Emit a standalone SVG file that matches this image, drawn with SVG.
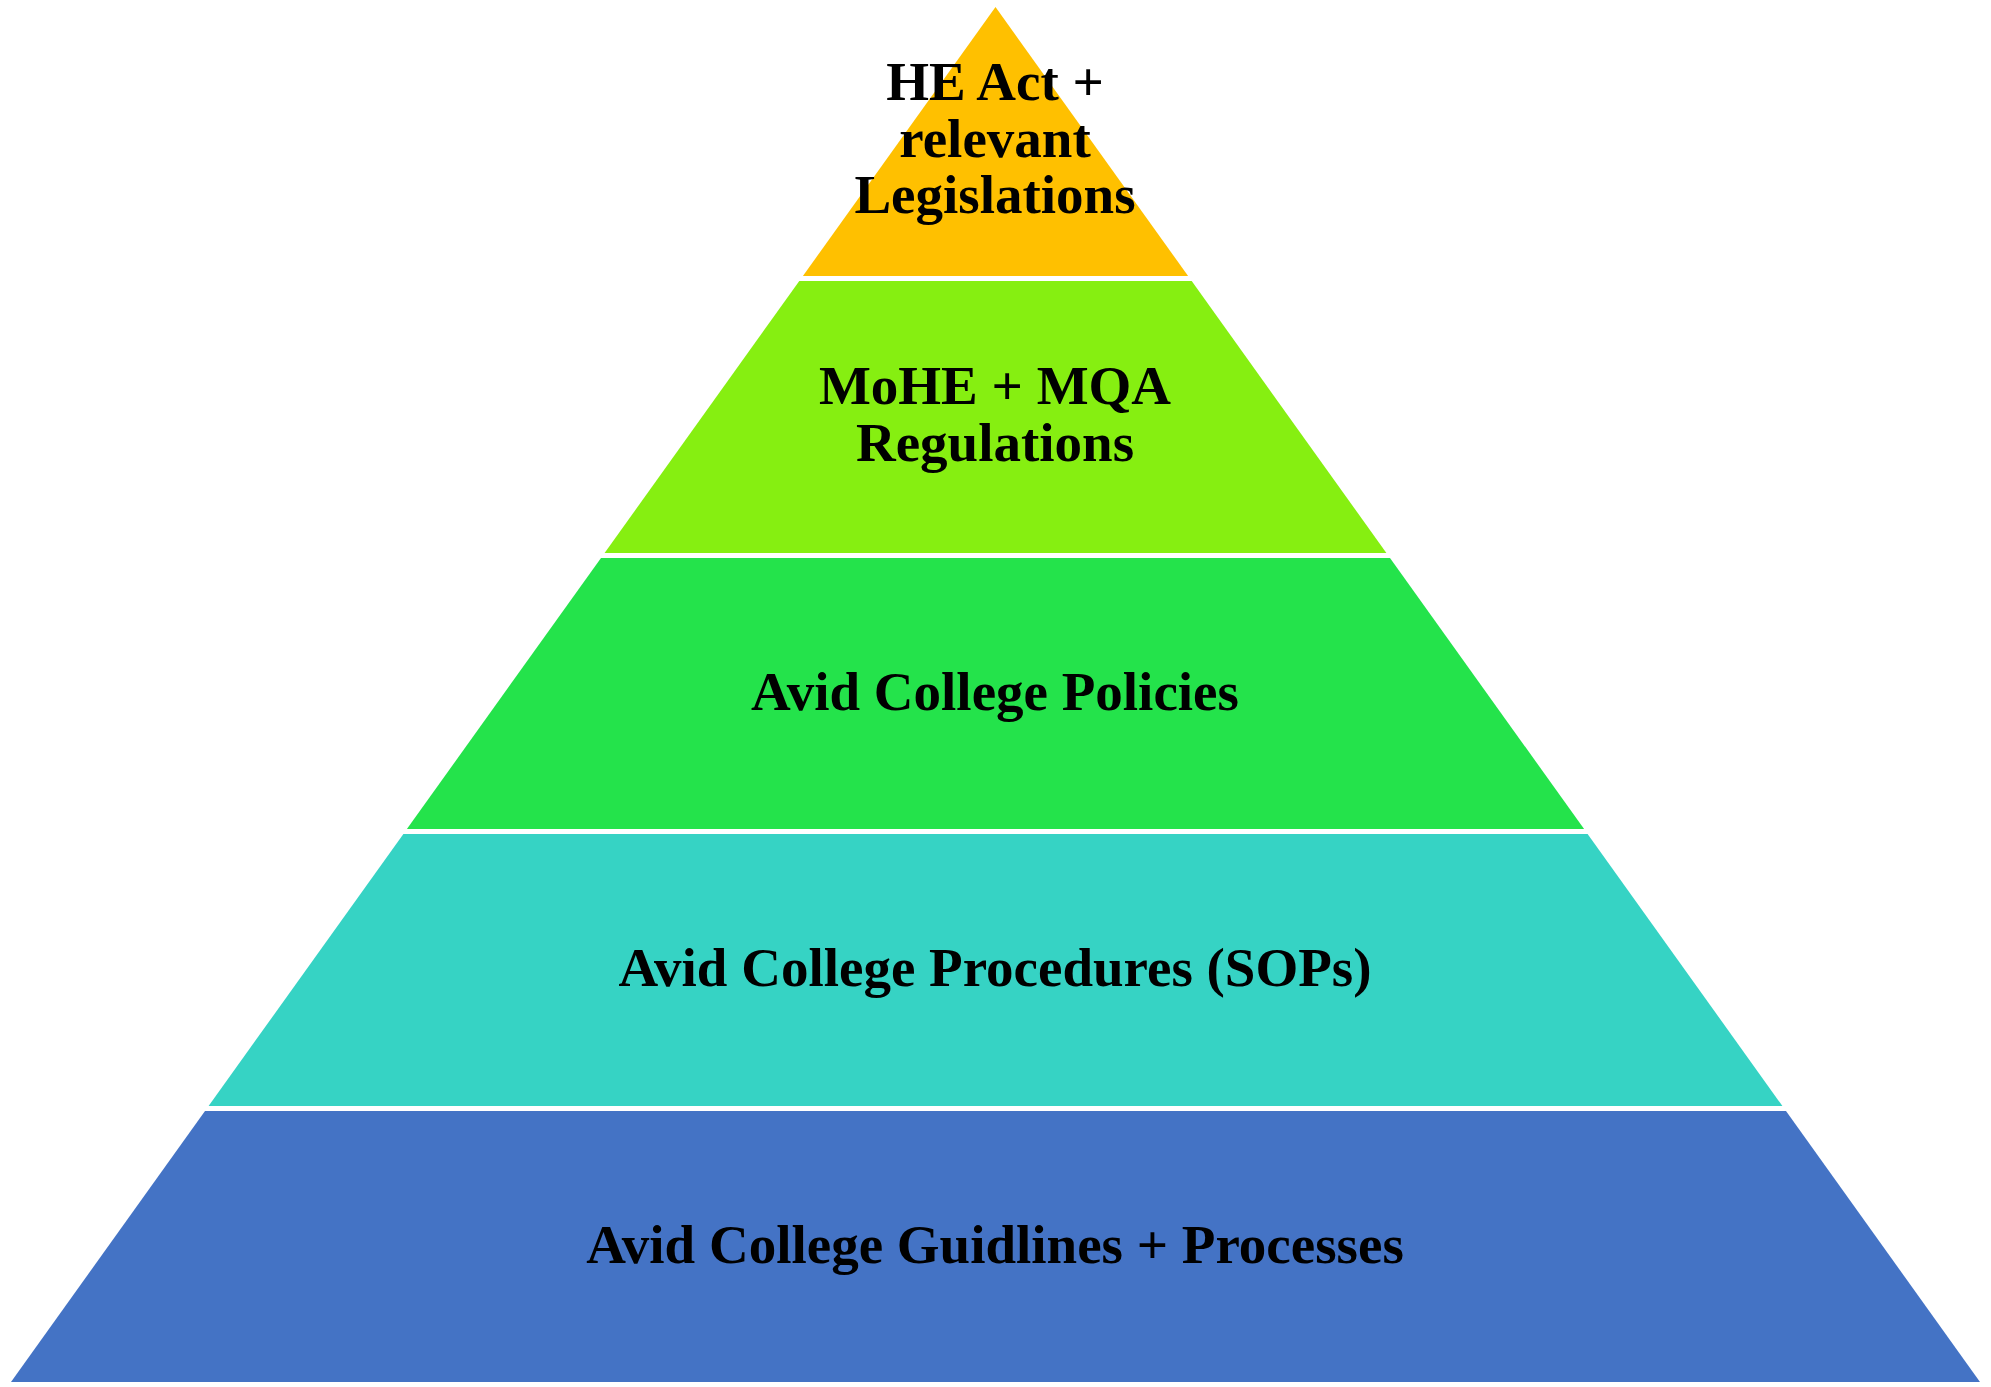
<svg xmlns="http://www.w3.org/2000/svg" width="1991" height="1387" viewBox="0 0 1991 1387">
<style>
.lbl{font-family:"Liberation Serif","Times New Roman",serif;font-weight:bold;font-size:55px;fill:#000;text-anchor:middle}
</style>
<rect width="1991" height="1387" fill="#fff"/>
<g id="tier1">
<polygon points="995.5,7 1188.1,276 802.9,276" fill="#FFC000"/>
<text class="lbl" x="995" y="100">HE Act +</text>
<text class="lbl" x="995" y="157">relevant</text>
<text class="lbl" x="995" y="213">Legislations</text>
</g>
<g id="tier2">
<polygon points="799.3,281 1191.7,281 1386.4,553 604.6,553" fill="#86EF11"/>
<text class="lbl" x="995" y="404">MoHE + MQA</text>
<text class="lbl" x="995" y="461">Regulations</text>
</g>
<g id="tier3">
<polygon points="601,558 1390,558 1584.1,829 406.9,829" fill="#24E34B"/>
<text class="lbl" x="995" y="710">Avid College Policies</text>
</g>
<g id="tier4">
<polygon points="403.4,834 1587.6,834 1782.4,1106 208.6,1106" fill="#36D3C4"/>
<text class="lbl" x="995" y="986">Avid College Procedures (SOPs)</text>
</g>
<g id="tier5">
<polygon points="205,1111 1786,1111 1980,1382 11,1382" fill="#4473C5"/>
<text class="lbl" x="995" y="1263">Avid College Guidlines + Processes</text>
</g>
<g id="connectors"></g>
</svg>
